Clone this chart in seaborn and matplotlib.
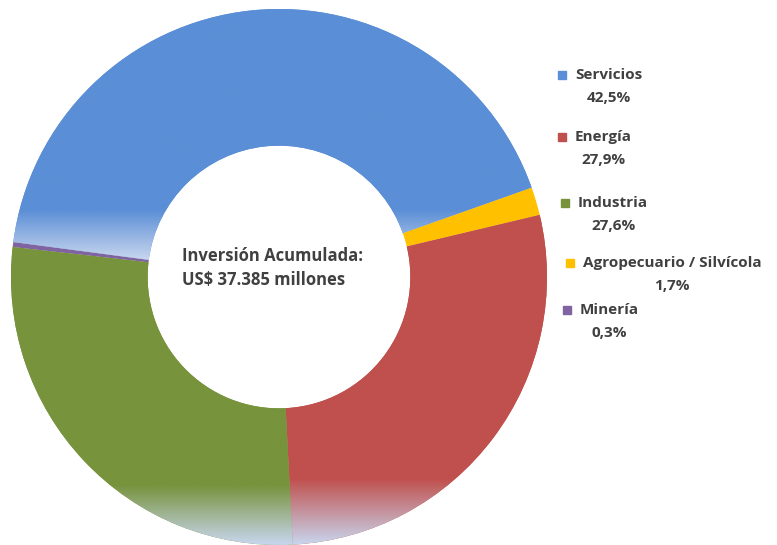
import numpy as np
import matplotlib
matplotlib.use("Agg")
import matplotlib.pyplot as plt
import matplotlib.colors as mcolors
import seaborn as sns

# --- data (legend order) ---
sectors = ["Servicios", "Energía", "Industria", "Agropecuario / Silvícola", "Minería"]
shares = [42.5, 27.9, 27.6, 1.7, 0.3]
share_labels = ["42,5%", "27,9%", "27,6%", "1,7%", "0,3%"]
colors = ["#5a8ed6", "#c0504d", "#77933c", "#ffc000", "#8064a2"]

# order the slices are drawn clockwise in the original
draw_order = ["Servicios", "Agropecuario / Silvícola", "Energía", "Industria", "Minería"]

center_text = "Inversión Acumulada:\nUS$ 37.385 millones"

sns.set_style("white")
plt.rcParams['font.family'] = ['Open Sans', 'DejaVu Sans']

fig = plt.figure(figsize=(7.77, 5.45), dpi=100)
ax = fig.add_axes([11 / 777, 0, 536 / 777, 536 / 545])

idx = [sectors.index(s) for s in draw_order]
vals = [shares[i] for i in idx]
cols = [colors[i] for i in idx]

wedges, _ = ax.pie(vals, colors=cols, startangle=172.5, counterclock=False,
                   radius=1.0, wedgeprops=dict(width=0.51, edgecolor="none"))

# Excel-like gradient: solid colour, fading to pale blue at the bottom of the big slices
fade_to = np.array(mcolors.to_rgb("#c8d6ee"))
for w, c in zip(wedges, cols):
    bb = w.get_path().get_extents()
    if bb.height < 0.5:
        continue  # tiny slices stay solid
    base = np.array(mcolors.to_rgb(c))
    t = np.linspace(0, 1, 256)  # 0 = bottom, 1 = top
    k = np.clip((0.2 - t) / 0.2, 0, 1)[:, None]
    grad = base * (1 - k) + fade_to * k
    img = grad.reshape(256, 1, 3)
    im = ax.imshow(img, extent=(bb.x0, bb.x1, bb.y0, bb.y1), origin="lower",
                   aspect="auto", interpolation="bilinear", zorder=2)
    im.set_clip_path(w)

ax.set_xlim(-1, 1)
ax.set_ylim(-1, 1)
ax.set_aspect("equal")
ax.axis("off")

# centre label
fig.text(182 / 777, 1 - 268 / 545, center_text, ha="left", va="center",
         fontsize=12, fontweight="bold", color="#404040", linespacing=1.45)

# legend, written by hand like the Excel one
leg_y = [75, 137, 203, 263, 310]
leg_x = [562, 562, 565, 570, 567]
for name, lab, col, y, x in zip(sectors, share_labels, colors, leg_y, leg_x):
    fig.patches.append(plt.Rectangle(((x - 4) / 777, 1 - (y + 4) / 545), 8 / 777, 8 / 545,
                                     transform=fig.transFigure, color=col, figure=fig))
    fig.text((x + 13) / 777, 1 - (y - 7) / 545, name + "\n" + lab, ha="left", va="top",
             multialignment="center", fontsize=11, fontweight="bold", color="#404040",
             linespacing=1.85, transform=fig.transFigure)

fig.savefig("out.png", dpi=100)
